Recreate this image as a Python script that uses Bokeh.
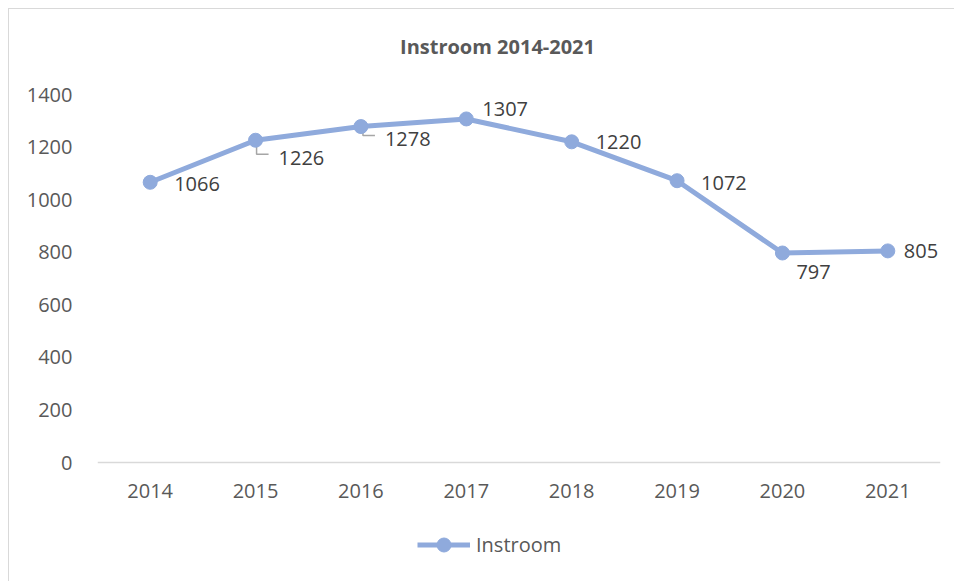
from bokeh.plotting import figure
from bokeh.models import (ColumnDataSource, Range1d, FixedTicker, LabelSet,
                          Legend, LegendItem, Label)
from bokeh.core.properties import value
from bokeh.embed import file_html
from bokeh.resources import INLINE

# ---- data ----
years = ["2014", "2015", "2016", "2017", "2018", "2019", "2020", "2021"]
instroom = [1066, 1226, 1278, 1307, 1220, 1072, 797, 805]
y_ticks = [0, 200, 400, 600, 800, 1000, 1200, 1400]
title_text = "Instroom 2014-2021"
series_name = "Instroom"

# ---- styling / placement (pixels) ----
LINE_COLOR = "#8FAADC"
TEXT_COLOR = "#595959"
LABEL_COLOR = "#404040"
FONT = "Open Sans"
label_dx = [24, 23, 24, 16, 24, 24, 14, 16]
label_dy = [-2, -18, -12, 10, 0, -2, -19, 0]   # screen: positive = up
# leader lines for labels that were moved away: (index, dx, dy_end, dx_end)
leaders = [(1, 1, 14, 13), (2, 2, 9, 14)]

W, H = 946, 573
MB_L, MB_R = 88, 15
FRAME_W = W - MB_L - MB_R
FRAME_H = H
PAD_TOP_PX = 85      # frame space above the 1400 level (title area)
PAD_BOTTOM_PX = 120  # frame space below the 0 level (axis labels + legend)
Y_MAX = y_ticks[-1]
px_y = Y_MAX / (FRAME_H - PAD_TOP_PX - PAD_BOTTOM_PX)   # data units per pixel
px_x = len(years) / FRAME_W

xs = list(range(len(years)))
src = ColumnDataSource(dict(x=xs, y=instroom,
                            txt=[str(v) for v in instroom],
                            dx=label_dx, dy=label_dy))

p = figure(width=W, height=H,
           x_range=Range1d(-0.5, len(years) - 0.5),
           y_range=Range1d(-PAD_BOTTOM_PX * px_y, Y_MAX + PAD_TOP_PX * px_y),
           output_backend="svg", toolbar_location=None,
           min_border_left=MB_L, min_border_right=MB_R,
           min_border_top=0, min_border_bottom=0)
p.styles = {"margin-left": "8px", "margin-top": "8px",
            "border-left": "1px solid #d9d9d9", "border-top": "1px solid #d9d9d9"}
p.background_fill_color = "white"
p.border_fill_color = "white"
p.outline_line_color = None
p.xgrid.grid_line_color = None
p.ygrid.grid_line_color = None

# axes
xa = p.xaxis[0]
xa.fixed_location = 0
xa.ticker = FixedTicker(ticks=xs)
xa.major_label_overrides = {i: y for i, y in enumerate(years)}
xa.axis_line_color = "#d9d9d9"
xa.axis_line_width = 1.5
xa.major_tick_line_color = None
xa.minor_tick_line_color = None
xa.major_label_standoff = 15
xa.major_label_text_font = FONT
xa.major_label_text_font_size = "20px"
xa.major_label_text_color = TEXT_COLOR

ya = p.yaxis[0]
ya.ticker = FixedTicker(ticks=y_ticks)
ya.axis_line_color = None
ya.major_tick_line_color = None
ya.minor_tick_line_color = None
ya.major_label_standoff = 19
ya.major_label_text_font = FONT
ya.major_label_text_font_size = "20px"
ya.major_label_text_color = TEXT_COLOR

# title (centred over the chart area)
title = Label(x=400, y=H - 37, x_units="screen", y_units="screen",
              text=title_text, text_align="center", text_baseline="middle",
              text_font=FONT, text_font_size="20px", text_font_style="bold",
              text_color=TEXT_COLOR)
p.add_layout(title)

# leader lines (pixel offsets converted through the scales)
lx, ly = [], []
for i, dx, dye, dxe in leaders:
    v = instroom[i]
    lx.append([i + dx * px_x, i + dx * px_x, i + dxe * px_x])
    ly.append([v, v - dye * px_y, v - dye * px_y])
p.multi_line(lx, ly, line_color="#a6a6a6", line_width=1.5)

r_line = p.line("x", "y", source=src, line_color=LINE_COLOR, line_width=5)
r_pts = p.scatter("x", "y", source=src, size=14, fill_color=LINE_COLOR,
                  line_color=LINE_COLOR)

labels = LabelSet(x="x", y="y", text="txt", source=src,
                  x_offset="dx", y_offset="dy",
                  text_align="left", text_baseline="middle",
                  text_font=value(FONT), text_font_size=value("20px"),
                  text_color=LABEL_COLOR)
p.add_layout(labels)

legend = Legend(items=[LegendItem(label=series_name, renderers=[r_line, r_pts])],
                location=(320, 20), orientation="horizontal",
                glyph_width=53, glyph_height=35, label_standoff=6,
                padding=0, margin=0, border_line_color=None,
                background_fill_alpha=0,
                label_text_font=FONT, label_text_font_size="20px",
                label_text_color=TEXT_COLOR)
p.add_layout(legend)

open("out.html", "w").write(file_html(p, INLINE))
